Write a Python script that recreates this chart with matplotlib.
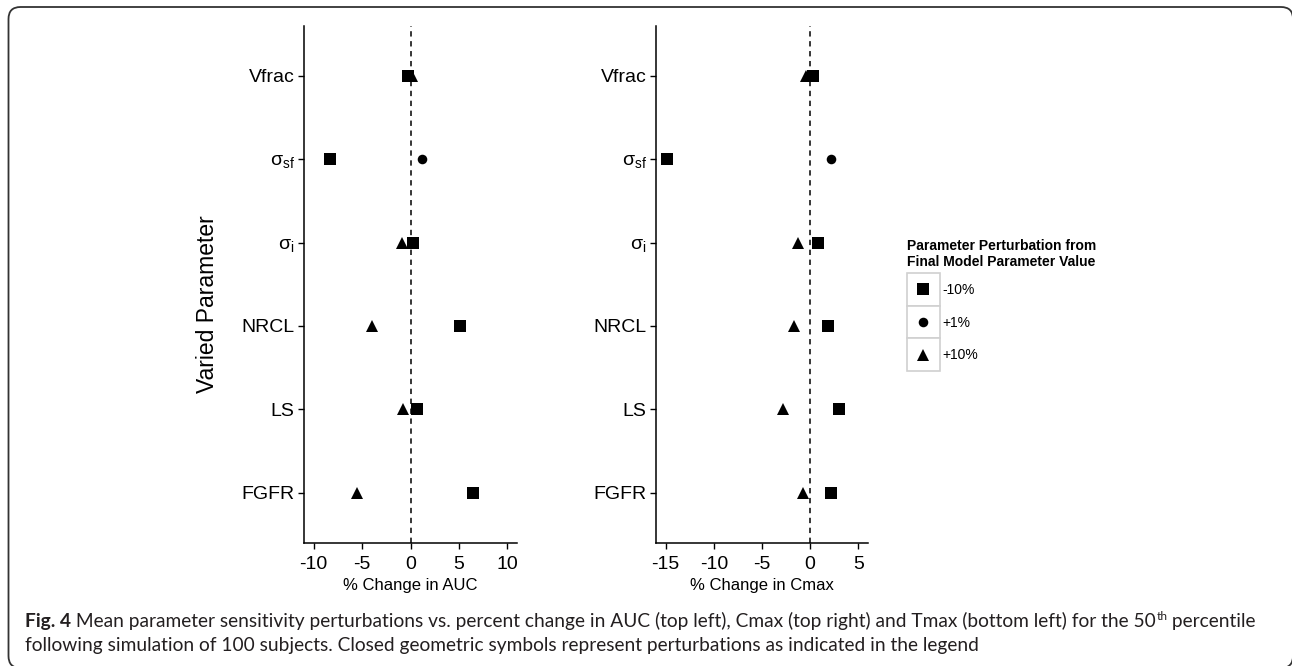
import numpy as np
import matplotlib
matplotlib.use("Agg")
import matplotlib.pyplot as plt
from matplotlib.patches import FancyBboxPatch, Rectangle
from matplotlib.transforms import IdentityTransform

plt.rcParams["font.family"] = ["Liberation Sans", "DejaVu Sans"]
plt.rcParams["mathtext.fontset"] = "custom"
plt.rcParams["mathtext.rm"] = "Liberation Sans"
plt.rcParams["mathtext.it"] = "Liberation Sans:italic"
plt.rcParams["mathtext.bf"] = "Liberation Sans:bold"

# data
params = ["Vfrac", r"$\mathregular{σ_{sf}}$", r"$\mathregular{σ_{i}}$", "NRCL", "LS", "FGFR"]
auc_minus10 = [-0.25, -8.35, 0.29, 5.07, 0.66, 6.43]
auc_plus1 = [np.nan, 1.14, np.nan, np.nan, np.nan, np.nan]
auc_plus10 = [0.12, np.nan, -0.92, -3.93, -0.81, -5.51]
cmax_minus10 = [0.34, -14.9, 0.79, 1.82, 3.01, 2.12]
cmax_plus1 = [np.nan, 2.16, np.nan, np.nan, np.nan, np.nan]
cmax_plus10 = [-0.41, np.nan, -1.27, -1.71, -2.84, -0.75]
auc_ticks = [-10, -5, 0, 5, 10]
cmax_ticks = [-15, -10, -5, 0, 5]
legend_labels = ["-10%", "+1%", "+10%"]

W, H = 1292, 666
fig = plt.figure(figsize=(W / 100, H / 100), dpi=100)

def px_axes(x0, y0, x1, y1):
    return fig.add_axes([x0 / W, 1 - y1 / H, (x1 - x0) / W, (y1 - y0) / H])

markers = [("s", 8.2), ("o", 6.9), ("^", 8.6)]

def panel(ax, series, ticks, xlim, xlabel):
    y = np.arange(len(params))
    ax.axvline(0, color="black", lw=1.1, ls=(0, (3.5, 3)), zorder=1)
    for vals, (m, ms) in zip(series, markers):
        ax.plot(vals, y, ls="none", marker=m, ms=ms, mew=0, color="black", zorder=3)
    ax.set_ylim(len(params) - 1 + 0.6, -0.6)
    ax.set_xlim(*xlim)
    ax.set_yticks(y)
    ax.set_yticklabels(params)
    ax.set_xticks(ticks)
    ax.set_xticklabels([str(t) for t in ticks])
    for s in ["top", "right"]:
        ax.spines[s].set_visible(False)
    for s in ["left", "bottom"]:
        ax.spines[s].set_linewidth(1.1)
    ax.tick_params(length=4.3, width=1.0, labelsize=14, pad=2.5, colors="black")
    ax.tick_params(axis="x", pad=5)
    ax.set_xlabel(xlabel, fontsize=12, labelpad=4)

ax1 = px_axes(304, 26, 517, 542.6)
panel(ax1, [auc_minus10, auc_plus1, auc_plus10], auc_ticks, (-11, 11), "% Change in AUC")
ax2 = px_axes(656, 26, 868, 542.6)
panel(ax2, [cmax_minus10, cmax_plus1, cmax_plus10], cmax_ticks, (-16, 6), "% Change in Cmax")

fig.text(207 / W, 1 - 304 / H, "Varied Parameter", rotation=90, fontsize=16.5,
         ha="center", va="center")

# legend
fig.text(906.7 / W, 1 - 239 / H, "Parameter Perturbation from\nFinal Model Parameter Value",
         fontsize=10, fontweight="bold", ha="left", va="top", linespacing=1.2)
lax = px_axes(906.7, 273, 940, 371)
lax.set_xlim(0, 1)
lax.set_ylim(3, 0)
lax.axis("off")
for i, ((m, ms), lab) in enumerate(zip(markers, legend_labels)):
    lax.add_patch(Rectangle((0, i), 1, 1, facecolor="white", edgecolor="#d0d0d0", lw=1.2,
                            clip_on=False))
    lax.plot([0.5], [i + 0.5], ls="none", marker=m, ms=ms, mew=0, color="black", clip_on=False)
    fig.text(942 / W, 1 - (290 + 32.7 * i) / H, lab, fontsize=10, ha="left", va="center")

# outer rounded border (pixel coordinates)
fig.patches.append(FancyBboxPatch((8.5, H - 668), 1293 - 8.5, 668 - 7,
                                  boxstyle="round,pad=0,rounding_size=12",
                                  transform=IdentityTransform(), fill=False,
                                  edgecolor="#333333", lw=1.3))

# caption
cap_font = ["Lato", "DejaVu Sans"]
cap_col = "#231f20"
fig.canvas.draw()
r = fig.canvas.get_renderer()

def put(x, y, s, size, **kw):
    t = fig.text(x / W, 1 - y / H, s, fontsize=size, family=cap_font, color=cap_col,
                 ha="left", va="baseline", **kw)
    bb = t.get_window_extent(r)
    return t, bb.x1

def caption(size):
    texts = []
    t, x = put(25, 627, "Fig. 4", size, fontweight="bold")
    texts.append(t)
    t, x = put(x, 627, " Mean parameter sensitivity perturbations vs. percent change in AUC "
               "(top left), Cmax (top right) and Tmax (bottom left) for the 50", size)
    texts.append(t)
    t, x = put(x + 0.5, 620, "th", size * 0.62)
    texts.append(t)
    t, x = put(x, 627, " percentile", size)
    texts.append(t)
    t, _ = put(25, 651, "following simulation of 100 subjects. Closed geometric symbols "
               "represent perturbations as indicated in the legend", size)
    texts.append(t)
    return texts, x

texts, xend = caption(12)
size = 12 * (1256 - 25) / (xend - 25)
for t in texts:
    t.remove()
caption(size)

fig.savefig("out.png", dpi=100)
